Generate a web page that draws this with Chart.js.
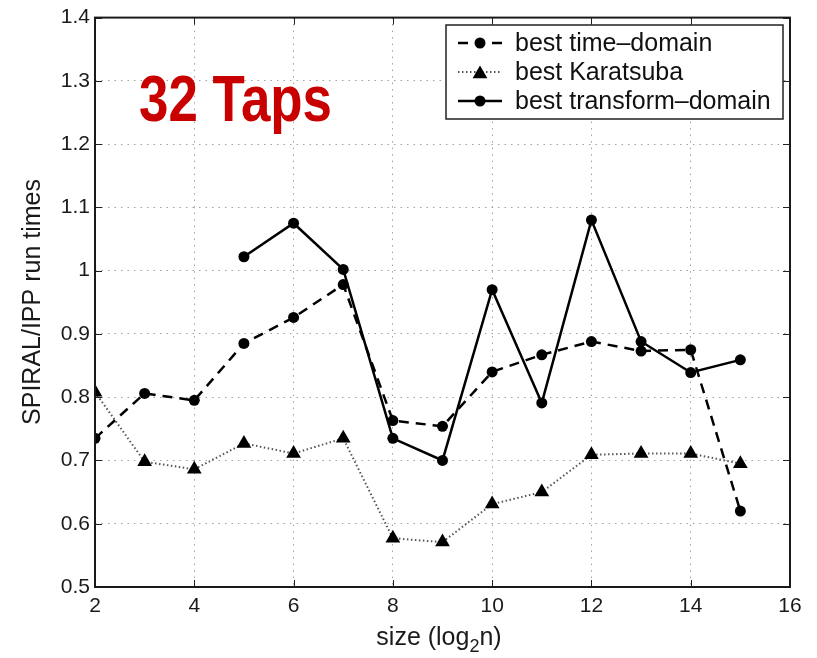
<!DOCTYPE html>
<html>
<head>
<meta charset="utf-8">
<title>SPIRAL/IPP run times - 32 Taps</title>
<script src="https://cdn.jsdelivr.net/npm/chart.js@4/dist/chart.umd.min.js"></script>
<style>
  html, body { margin: 0; padding: 0; background: #fff; }
  #wrap { width: 817px; height: 658px; position: relative; }
</style>
</head>
<body>
<div id="wrap"><canvas id="runChart" width="817" height="658"></canvas></div>
<script>
// log2 of the problem size
const sizes = [2, 3, 4, 5, 6, 7, 8, 9, 10, 11, 12, 13, 14, 15];
const timeDomain = [0.735, 0.806, 0.795, 0.885, 0.926, 0.978, 0.763, 0.754, 0.840, 0.867, 0.888, 0.873, 0.875, 0.620];
const karatsuba = [0.808, 0.698, 0.686, 0.727, 0.711, 0.735, 0.577, 0.571, 0.631, 0.650, 0.709, 0.711, 0.711, 0.695];
const transformSizes = [5, 6, 7, 8, 9, 10, 11, 12, 13, 14, 15];
const transformDomain = [1.022, 1.075, 1.002, 0.735, 0.700, 0.970, 0.791, 1.080, 0.888, 0.839, 0.859];
const xTicks = [2, 4, 6, 8, 10, 12, 14, 16];
const yTicks = [0.5, 0.6, 0.7, 0.8, 0.9, 1.0, 1.1, 1.2, 1.3, 1.4];

const seriesNames = ['best time\u2013domain', 'best Karatsuba', 'best transform\u2013domain'];
const FONT = '"Liberation Sans", Arial, Helvetica, sans-serif';

function toPoints(xs, ys) {
  return xs.map((x, i) => ({ x: x, y: ys[i] }));
}

function drawMarker(ctx, style, r, cx, cy) {
  ctx.beginPath();
  if (style === 'triangle') {
    ctx.moveTo(cx, cy - r);
    ctx.lineTo(cx + r * 0.866, cy + r * 0.5);
    ctx.lineTo(cx - r * 0.866, cy + r * 0.5);
    ctx.closePath();
  } else {
    ctx.arc(cx, cy, r, 0, Math.PI * 2);
  }
  ctx.fill();
}

// box, inward ticks, legend and titles drawn on top of the plot
const decorations = {
  id: 'decorations',
  afterDraw(chart) {
    const ctx = chart.ctx;
    const a = chart.chartArea;
    const xs = chart.scales.x, ys = chart.scales.y;
    ctx.save();

    ctx.strokeStyle = '#222';
    ctx.lineWidth = 1;
    ctx.setLineDash([]);
    ctx.beginPath();
    xTicks.forEach(v => {
      const px = Math.round(xs.getPixelForValue(v)) + 0.5;
      ctx.moveTo(px, a.bottom); ctx.lineTo(px, a.bottom - 7);
      ctx.moveTo(px, a.top); ctx.lineTo(px, a.top + 7);
    });
    yTicks.forEach(v => {
      const py = Math.round(ys.getPixelForValue(v)) + 0.5;
      ctx.moveTo(a.left, py); ctx.lineTo(a.left + 7, py);
      ctx.moveTo(a.right, py); ctx.lineTo(a.right - 7, py);
    });
    ctx.stroke();

    ctx.lineWidth = 2;
    ctx.strokeStyle = '#1a1a1a';
    ctx.strokeRect(a.left, a.top, a.right - a.left, a.bottom - a.top);

    // legend
    const lx = 446, ly = 25, lw = 337, lh = 94;
    ctx.fillStyle = '#fff';
    ctx.fillRect(lx, ly, lw, lh);
    ctx.lineWidth = 1.5;
    ctx.strokeStyle = '#222';
    ctx.strokeRect(lx, ly, lw, lh);
    chart.data.datasets.forEach((ds, i) => {
      const cy = ly + 18 + i * 29;
      ctx.strokeStyle = ds.borderColor;
      ctx.fillStyle = '#000';
      ctx.lineWidth = ds.borderWidth;
      ctx.setLineDash(ds.borderDash || []);
      ctx.beginPath();
      ctx.moveTo(458, cy); ctx.lineTo(502, cy);
      ctx.stroke();
      ctx.setLineDash([]);
      const tri = ds.pointStyle === 'triangle';
      drawMarker(ctx, ds.pointStyle, ds.pointRadius, 480, tri ? cy + 2 : cy);
      ctx.fillStyle = '#111';
      ctx.font = '25px ' + FONT;
      ctx.textAlign = 'left';
      ctx.textBaseline = 'middle';
      ctx.fillText(ds.label, 515, cy + 1);
    });

    // red heading, narrow bold face
    ctx.fillStyle = '#c80000';
    ctx.font = 'bold 65px "Liberation Sans Narrow", "Arial Narrow", ' + FONT;
    ctx.textAlign = 'left';
    ctx.textBaseline = 'alphabetic';
    const heading = '32 Taps';
    const hw = ctx.measureText(heading).width;
    ctx.save();
    ctx.translate(139, 121);
    ctx.scale(193 / hw, 1);
    ctx.fillText(heading, 0, 0);
    ctx.restore();

    // axis titles
    ctx.fillStyle = '#1a1a1a';
    ctx.font = '25px ' + FONT;
    ctx.save();
    ctx.translate(33, 302);
    ctx.rotate(-Math.PI / 2);
    ctx.textAlign = 'center';
    ctx.textBaseline = 'middle';
    ctx.fillText('SPIRAL/IPP run times', 0, 0);
    ctx.restore();

    const base = 645;
    const p1 = 'size (log', p2 = '2', p3 = 'n)';
    ctx.font = '25px ' + FONT;
    const w1 = ctx.measureText(p1).width, w3 = ctx.measureText(p3).width;
    ctx.font = '18px ' + FONT;
    const w2 = ctx.measureText(p2).width;
    let tx = 439 - (w1 + w2 + w3) / 2;
    ctx.textAlign = 'left';
    ctx.textBaseline = 'alphabetic';
    ctx.font = '25px ' + FONT;
    ctx.fillText(p1, tx, base);
    tx += w1;
    ctx.font = '18px ' + FONT;
    ctx.fillText(p2, tx, base + 7);
    tx += w2;
    ctx.font = '25px ' + FONT;
    ctx.fillText(p3, tx, base);

    ctx.restore();
  }
};

const ctx = document.getElementById('runChart').getContext('2d');
new Chart(ctx, {
  type: 'line',
  data: {
    datasets: [{
      label: seriesNames[0],
      data: toPoints(sizes, timeDomain),
      borderColor: '#000',
      backgroundColor: '#000',
      borderWidth: 2.5,
      borderDash: [10, 7],
      pointStyle: 'circle',
      pointRadius: 5.5,
      pointBorderWidth: 0,
      tension: 0
    }, {
      label: seriesNames[1],
      data: toPoints(sizes, karatsuba),
      borderColor: '#555',
      backgroundColor: '#000',
      borderWidth: 2,
      borderDash: [1.5, 2.5],
      pointStyle: 'triangle',
      pointRadius: 8.5,
      pointBorderWidth: 0,
      pointBackgroundColor: '#000',
      tension: 0
    }, {
      label: seriesNames[2],
      data: toPoints(transformSizes, transformDomain),
      borderColor: '#000',
      backgroundColor: '#000',
      borderWidth: 2.5,
      pointStyle: 'circle',
      pointRadius: 5.5,
      pointBorderWidth: 0,
      tension: 0
    }]
  },
  options: {
    responsive: false,
    animation: false,
    layout: { padding: { left: 0, right: 27, top: 16, bottom: 0 } },
    plugins: {
      legend: { display: false },
      tooltip: { enabled: false }
    },
    scales: {
      x: {
        type: 'linear',
        min: 2,
        max: 16,
        afterBuildTicks: s => { s.ticks = xTicks.map(v => ({ value: v })); },
        afterFit: s => { s.height = 71; },
        ticks: {
          color: '#1a1a1a',
          font: { size: 21, family: FONT },
          padding: 7,
          maxRotation: 0
        },
        grid: { color: '#a0a0a0', lineWidth: 1, drawTicks: false },
        border: { display: false, dash: [1.5, 5] }
      },
      y: {
        type: 'linear',
        min: 0.5,
        max: 1.4,
        afterBuildTicks: s => { s.ticks = yTicks.map(v => ({ value: v })); },
        afterFit: s => { s.width = 95; },
        ticks: {
          color: '#1a1a1a',
          font: { size: 21, family: FONT },
          padding: 5,
          callback: v => String(Number(v.toFixed(2)))
        },
        grid: { color: '#a0a0a0', lineWidth: 1, drawTicks: false },
        border: { display: false, dash: [1.5, 5] }
      }
    }
  },
  plugins: [decorations]
});
</script>
</body>
</html>
